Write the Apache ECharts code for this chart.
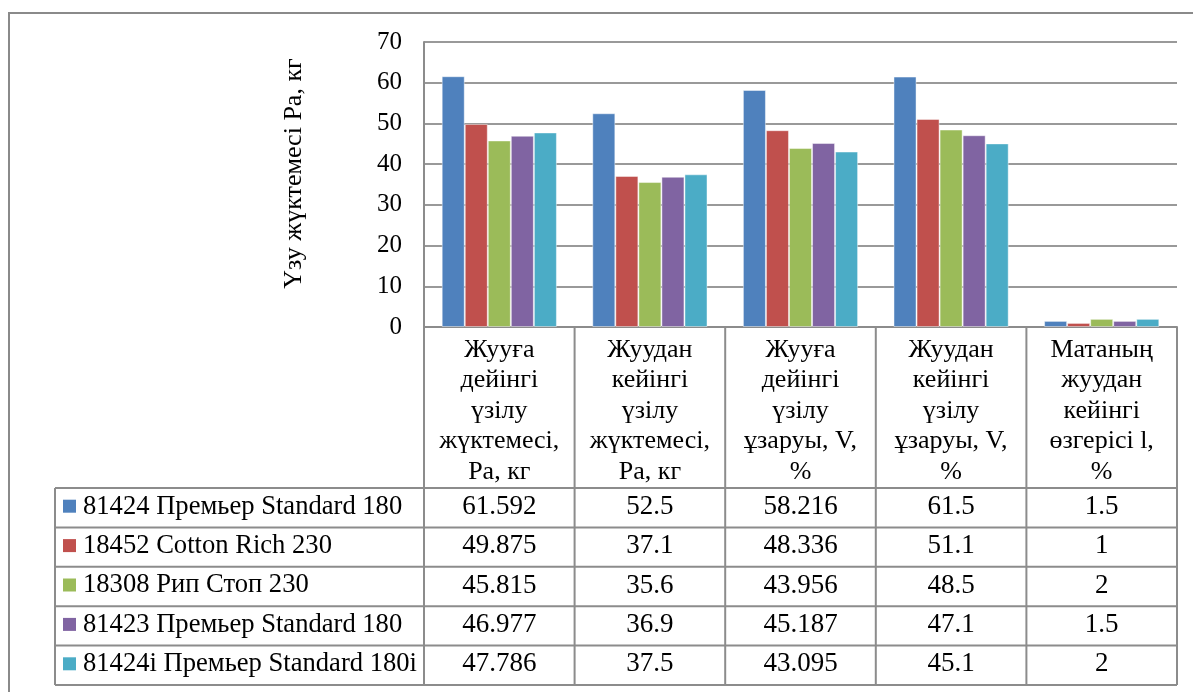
<!DOCTYPE html>
<html>
<head>
<meta charset="utf-8">
<script src="https://cdn.jsdelivr.net/npm/echarts@6/dist/echarts.min.js"></script>
<style>
html,body{margin:0;padding:0;background:#fff;}
#c{width:1193px;height:692px;}
</style>
</head>
<body>
<div id="c"></div>
<script>
const categories = [
  'Жууға\nдейінгі\nүзілу\nжүктемесі,\nРа, кг',
  'Жуудан\nкейінгі\nүзілу\nжүктемесі,\nРа, кг',
  'Жууға\nдейінгі\nүзілу\nұзаруы, V,\n%',
  'Жуудан\nкейінгі\nүзілу\nұзаруы, V,\n%',
  'Матаның\nжуудан\nкейінгі\nөзгерісі l,\n%'
];
const seriesNames = [
  '81424 Премьер Standard 180',
  '18452 Cotton Rich 230',
  '18308 Рип Стоп 230',
  '81423 Премьер Standard 180',
  '81424i Премьер Standard 180i'
];
const premier81424 = [61.592, 52.5, 58.216, 61.5, 1.5];
const cottonRich18452 = [49.875, 37.1, 48.336, 51.1, 1];
const ripStop18308 = [45.815, 35.6, 43.956, 48.5, 2];
const premier81423 = [46.977, 36.9, 45.187, 47.1, 1.5];
const premier81424i = [47.786, 37.5, 43.095, 45.1, 2];
const seriesValues = [premier81424, cottonRich18452, ripStop18308, premier81423, premier81424i];
const colors = ['#4F81BD', '#C0504D', '#9BBB59', '#8064A2', '#4BACC6'];
const yAxisTitle = 'Үзу жүктемесі Ра, кг';

const FONT = '"Liberation Serif", "Times New Roman", serif';
const LINE = '#8c8c8c';

const chart = echarts.init(document.getElementById('c'));
chart.setOption({
  animation: false,
  backgroundColor: '#fff',
  color: colors,
  grid: { left: 424, right: 16, top: 42, bottom: 365 },
  xAxis: {
    type: 'category',
    data: categories,
    axisLabel: { show: false },
    axisTick: { show: false },
    axisLine: { lineStyle: { color: LINE, width: 2 } }
  },
  yAxis: {
    type: 'value', min: 0, max: 70, interval: 10,
    axisLine: { show: true, lineStyle: { color: LINE, width: 2 } },
    axisTick: { show: false },
    axisLabel: { fontFamily: FONT, fontSize: 25, color: '#000', margin: 22 },
    splitLine: { lineStyle: { color: '#999', width: 2 } }
  },
  series: seriesNames.map((n, i) => ({
    name: n, type: 'bar', data: seriesValues[i],
    barGap: '0%', barCategoryGap: '23.5%',
    itemStyle: { color: colors[i], borderColor: 'rgba(255,255,255,0.45)', borderWidth: 1 }
  }))
});

function buildTable() {
  const c0 = chart.convertToPixel({ xAxisIndex: 0 }, 0);
  const c1 = chart.convertToPixel({ xAxisIndex: 0 }, 1);
  const w = c1 - c0;
  const y0 = chart.convertToPixel({ yAxisIndex: 0 }, 0);
  const y70 = chart.convertToPixel({ yAxisIndex: 0 }, 70);
  const colL = c0 - w / 2;
  const colR = colL + w * categories.length;
  const headBottom = y0 + 161;
  const rowH = 39.4;
  const tableBottom = headBottom + rowH * seriesNames.length;
  const legL = 55;
  const g = [];
  g.push({ type: 'rect', shape: { x: 9, y: 13, width: 1300, height: 800 },
    style: { fill: 'none', stroke: '#8a8a8a', lineWidth: 2 }, z: 1 });
  g.push({ type: 'text', x: 294, y: (y0 + y70) / 2 - 11, rotation: Math.PI / 2,
    style: { text: yAxisTitle, fontFamily: FONT, fontSize: 26, fill: '#000', align: 'center', verticalAlign: 'middle' } });
  for (let k = 0; k <= categories.length; k++) {
    const x = colL + w * k;
    g.push({ type: 'line', shape: { x1: x, y1: y0, x2: x, y2: tableBottom }, style: { stroke: LINE, lineWidth: 2 } });
  }
  g.push({ type: 'line', shape: { x1: legL, y1: headBottom, x2: legL, y2: tableBottom }, style: { stroke: LINE, lineWidth: 2 } });
  g.push({ type: 'line', shape: { x1: colL, y1: y0, x2: colR, y2: y0 }, style: { stroke: LINE, lineWidth: 2 } });
  for (let r = 0; r <= seriesNames.length; r++) {
    const y = headBottom + rowH * r;
    g.push({ type: 'line', shape: { x1: legL, y1: y, x2: colR, y2: y }, style: { stroke: LINE, lineWidth: 2 } });
  }
  categories.forEach((cat, k) => {
    g.push({ type: 'text', x: colL + w * k + w / 2, y: y0 + 84,
      style: { text: cat, fontFamily: FONT, fontSize: 26, lineHeight: 30.5, fill: '#000', align: 'center', verticalAlign: 'middle' } });
  });
  seriesNames.forEach((n, r) => {
    const cy = headBottom + rowH * r + rowH / 2;
    g.push({ type: 'rect', shape: { x: 63, y: cy - 8, width: 13, height: 13 }, style: { fill: colors[r] } });
    g.push({ type: 'text', x: 83, y: cy - 1,
      style: { text: n, fontFamily: FONT, fontSize: 26.6, fill: '#000', align: 'left', verticalAlign: 'middle' } });
    seriesValues[r].forEach((v, k) => {
      g.push({ type: 'text', x: colL + w * k + w / 2, y: cy - 1,
        style: { text: String(v), fontFamily: FONT, fontSize: 27, fill: '#000', align: 'center', verticalAlign: 'middle' } });
    });
  });
  chart.setOption({ graphic: g });
}
buildTable();
</script>
</body>
</html>
